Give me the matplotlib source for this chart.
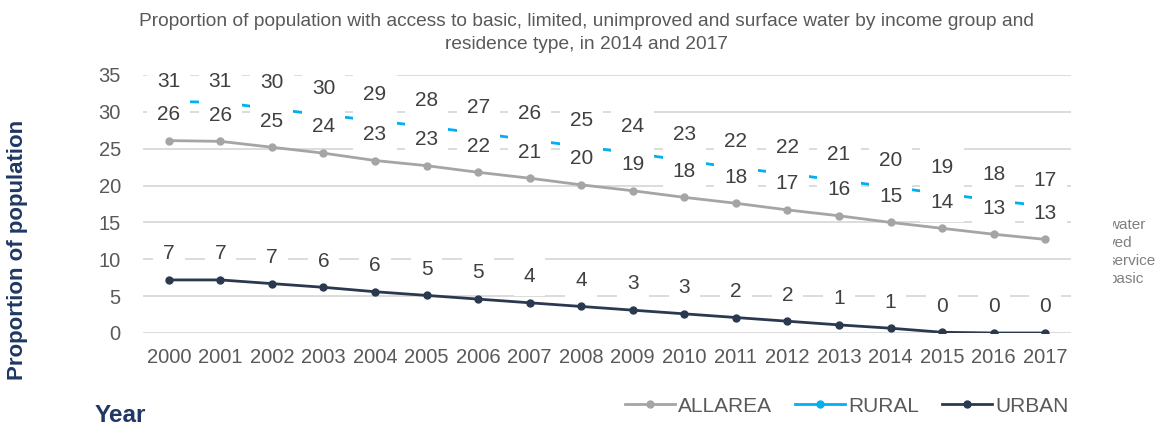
import matplotlib
matplotlib.use('Agg')
import matplotlib.pyplot as plt

plt.rcParams['font.family'] = ['Liberation Sans', 'DejaVu Sans']

# Данные
years = ['2000', '2001', '2002', '2003', '2004', '2005', '2006', '2007', '2008',
         '2009', '2010', '2011', '2012', '2013', '2014', '2015', '2016', '2017']
allarea = [26.1, 26.0, 25.2, 24.4, 23.4, 22.7, 21.8, 21.0, 20.1,
           19.3, 18.4, 17.6, 16.7, 15.9, 15.0, 14.2, 13.4, 12.7]
rural = [31.4, 31.3, 30.4, 29.6, 28.8, 28.0, 27.1, 26.2, 25.3,
         24.4, 23.4, 22.4, 21.6, 20.7, 19.8, 18.9, 18.0, 17.2]
urban = [7.2, 7.2, 6.7, 6.2, 5.6, 5.1, 4.6, 4.1, 3.6,
         3.1, 2.6, 2.1, 1.6, 1.1, 0.65, 0.1, 0.0, 0.0]
hidden_legend = ['water', 'ved', 'service', 'basic']

title = ('Proportion of population with access to basic, limited, unimproved and surface water by income group and\n'
         'residence type, in 2014 and 2017')

W, H = 1157, 426
fig = plt.figure(figsize=(W / 100, H / 100), dpi=100)
ax = fig.add_axes([143 / W, (H - 333) / H, (1071 - 143) / W, 258 / H])

x = list(range(len(years)))
series = [('ALLAREA', allarea, '#a5a5a5'),
          ('RURAL', rural, '#00b0f0'),
          ('URBAN', urban, '#2b3950')]
for name, vals, col in series:
    ax.plot(x, vals, color=col, lw=2, marker='o', ms=5, label=name, zorder=3)

# Подписи значений над точками (не выше верхней границы области)
for name, vals, col in series:
    for xi, v in zip(x, vals):
        ax.annotate(f'{v:.0f}', (xi, v), xytext=(xi, min(v + 3.55, 34.1)), textcoords='data',
                    ha='center', va='center', fontsize=15, color='#404040',
                    bbox=dict(boxstyle='square,pad=0.48', fc='white', ec='none'),
                    zorder=5, annotation_clip=False)

ax.set_xlim(-0.5, 17.5)
ax.set_ylim(0, 35)
ax.set_yticks(range(0, 36, 5))
ax.set_xticks(x)
ax.set_xticklabels(years)
ax.tick_params(axis='both', length=0, labelsize=14.5, labelcolor='#595959')
ax.tick_params(axis='x', pad=11)
ax.tick_params(axis='y', pad=16)
ax.grid(axis='y', color='#d9d9d9', lw=1.3, zorder=0)
ax.set_axisbelow(True)
for s in ax.spines.values():
    s.set_visible(False)

fig.text(0.507, 1 - 33 / H, title, ha='center', va='center', fontsize=13.8,
         color='#595959', linespacing=1.4)
fig.text(18 / W, 1 - 250 / H, 'Proportion of population', rotation=90, ha='center',
         va='center', fontsize=16, fontweight='bold', color='#1f3864')
fig.text(95 / W, 1 - 415 / H, 'Year', ha='left', va='center', fontsize=17.5,
         fontweight='bold', color='#1f3864')

fig.legend(loc='center', bbox_to_anchor=(847 / W, 1 - 406 / H), ncol=3, frameon=False,
           fontsize=15, labelcolor='#595959', handlelength=2.4, handletextpad=0.15,
           columnspacing=1.1, borderpad=0)

# Обрезанная легенда справа
ax2 = fig.add_axes([1113 / W, 0, (W - 1113) / W, 1])
ax2.set_axis_off()
ax2.set_xlim(0, W - 1113)
ax2.set_ylim(H, 0)
for i, t in enumerate(hidden_legend):
    ax2.text(-5, 225 + 18 * i, t, ha='left', va='center', fontsize=11,
             color='#7f7f7f', clip_on=True)

fig.savefig('out.png', dpi=100)
